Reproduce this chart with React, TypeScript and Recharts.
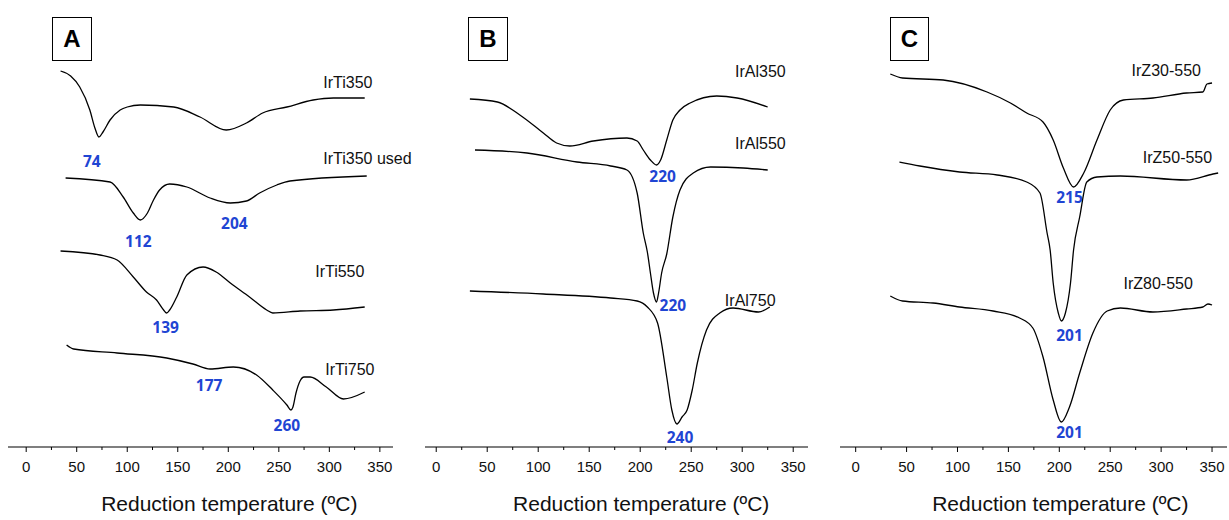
import { LineChart, Line, XAxis, YAxis, ReferenceDot } from 'recharts'

// TPR profiles, signal in arbitrary units (offset stacked), temperature in ºC
const irTi350 = [
  [34, 376], [44, 371], [53, 360], [63, 337], [68, 319], [72, 310], [76, 315], [83, 327],
  [93, 337], [100, 340], [113, 342], [146, 340], [172, 330], [198, 317], [218, 324],
  [234, 334], [258, 340], [284, 347], [304, 349], [335, 349],
]
const irTi350used = [
  [39, 269], [83, 265], [96, 250], [106, 234], [113, 227], [120, 234], [126, 247],
  [132, 257], [142, 263], [159, 260], [182, 249], [202, 244], [218, 246], [231, 254],
  [248, 262], [261, 266], [337, 271],
]
const irTi550 = [
  [34, 196], [73, 192], [90, 187], [106, 170], [119, 155], [129, 147], [136, 137],
  [139, 134], [142, 137], [149, 150], [159, 172], [175, 180], [188, 175], [202, 164],
  [221, 150], [238, 137], [244, 134], [271, 136], [304, 137], [335, 140],
]
const irTi750 = [
  [40, 102], [47, 98], [90, 94], [139, 89], [165, 83], [182, 78], [205, 80], [228, 72],
  [244, 57], [258, 42], [262, 37], [264, 40], [267, 54], [271, 66], [275, 70], [281, 70],
  [297, 60], [314, 48], [335, 55],
]

const irAl350 = [
  [33, 348], [60, 345], [82, 332], [105, 314], [118, 304], [131, 301], [154, 306],
  [187, 309], [197, 306], [203, 297], [210, 287], [216, 282], [220, 287], [226, 307],
  [232, 327], [239, 337], [249, 344], [275, 351], [295, 349], [325, 340],
]
const irAl550 = [
  [38, 297], [89, 294], [138, 285], [171, 281], [187, 277], [197, 254], [203, 214],
  [207, 195], [210, 174], [213, 154], [216, 145], [218, 154], [221, 174], [226, 193],
  [232, 230], [239, 257], [252, 274], [269, 280], [301, 279], [325, 277],
]
const irAl750 = [
  [33, 156], [105, 153], [171, 149], [197, 146], [207, 140], [217, 124], [226, 70],
  [231, 37], [236, 23], [241, 30], [246, 37], [251, 57], [256, 84], [265, 117],
  [278, 134], [291, 139], [316, 135], [327, 140],
]

const irZ30 = [
  [34, 373], [46, 369], [86, 367], [129, 355], [152, 344], [168, 334], [184, 325],
  [194, 307], [204, 279], [214, 260], [224, 274], [237, 307], [250, 337], [263, 347],
  [292, 349], [325, 354], [341, 355], [345, 363], [350, 364],
]
const irZ50 = [
  [43, 285], [63, 281], [102, 275], [139, 272], [168, 265], [181, 254], [188, 214],
  [191, 197], [194, 164], [199, 134], [202, 126], [206, 134], [211, 164], [214, 197],
  [220, 230], [227, 265], [237, 270], [260, 271], [325, 267], [351, 273], [356, 274],
]
const irZ80 = [
  [34, 151], [46, 146], [76, 144], [102, 140], [135, 136], [161, 129], [174, 119],
  [184, 90], [194, 47], [202, 25], [210, 40], [220, 74], [233, 114], [247, 136],
  [260, 139], [292, 135], [325, 138], [341, 140], [346, 143], [350, 142],
]

const ticks = [0, 25, 50, 75, 100, 125, 150, 175, 200, 225, 250, 275, 300, 325, 350]

// sample names [name, t, s] (text start) and peak temperatures [label, t, s]
const namesA = [['IrTi350', 294, 365], ['IrTi350 used', 294, 289], ['IrTi550', 286, 176], ['IrTi750', 296, 78]]
const peaksA = [['74', 65, 286], ['112', 111, 206], ['204', 206, 224], ['139', 138, 120], ['177', 181, 62], ['260', 258, 22]]
const namesB = [['IrAl350', 293, 376], ['IrAl550', 293, 304], ['IrAl750', 283, 147]]
const peaksB = [['220', 222, 271], ['220', 232, 142], ['240', 239, 10]]
const namesC = [['IrZ30-550', 271, 377], ['IrZ50-550', 282, 290], ['IrZ80-550', 263, 164]]
const peaksC = [['215', 210, 250], ['201', 210, 112], ['201', 210, 15]]

const toPts = (arr: number[][]) => arr.map(([t, s]) => ({ t, s }))

const AxisTick = (props: any) => {
  const { x, y, payload } = props
  const major = payload.value % 50 === 0
  return (
    <g>
      <line x1={x} x2={x} y1={y} y2={y + (major ? 5 : 3)} stroke="#000" strokeWidth={1} />
      {major && (
        <text x={x} y={y + 25} textAnchor="middle" fontSize={15} fontFamily="Liberation Sans, Arial" fill="#111">
          {payload.value}
        </text>
      )}
    </g>
  )
}

interface PanelProps {
  left: number
  width: number
  margin: { left: number; right: number }
  domain: [number, number]
  series: number[][][]
  names: (string | number)[][]
  peaks: (string | number)[][]
  letter: string
  box: { x: number; w: number }
}

function Panel({ left, width, margin, domain, series, names, peaks, letter, box }: PanelProps) {
  const title = (p: any) => {
    const vb = p.viewBox
    const cx = vb.x + ((201 - domain[0]) / (domain[1] - domain[0])) * vb.width
    return (
      <text x={cx} y={511} textAnchor="middle" fontSize={21} fontFamily="Liberation Sans, Arial" fill="#111">
        Reduction temperature (ºC)
      </text>
    )
  }
  return (
    <div style={{ position: 'absolute', left, top: 0, width, height: 520 }}>
      <LineChart
        width={width}
        height={520}
        margin={{ top: 0, bottom: 0, left: margin.left, right: margin.right }}
      >
        <XAxis
          type="number"
          dataKey="t"
          domain={domain}
          allowDataOverflow
          ticks={ticks}
          interval={0}
          height={73}
          tickLine={false}
          tickSize={0}
          tickMargin={0}
          tick={<AxisTick />}
          axisLine={{ stroke: '#000', strokeWidth: 1.2 }}
          label={{ content: title }}
        />
        <YAxis type="number" dataKey="s" domain={[0, 447]} hide allowDataOverflow />
        {series.map((d, i) => (
          <Line
            key={i}
            data={toPts(d)}
            dataKey="s"
            type="monotone"
            stroke="#000"
            strokeWidth={1.3}
            dot={false}
            isAnimationActive={false}
          />
        ))}
        {names.map(([n, t, s], i) => (
          <ReferenceDot
            key={'n' + i}
            x={t as number}
            y={s as number}
            r={0}
            fill="none"
            stroke="none"
            label={(p: any) => (
              <text x={p.viewBox.x} y={p.viewBox.y} dy={6} fontSize={16} fontFamily="Liberation Sans, Arial" fill="#111">
                {n}
              </text>
            )}
          />
        ))}
        {peaks.map(([n, t, s], i) => (
          <ReferenceDot
            key={'p' + i}
            x={t as number}
            y={s as number}
            r={0}
            fill="none"
            stroke="none"
            label={(p: any) => (
              <text
                x={p.viewBox.x}
                y={p.viewBox.y}
                dy={6}
                textAnchor="middle"
                fontSize={15.5}
                fontWeight={700}
                fontFamily="Open Sans, Noto Sans"
                fill="#1f45d3"
              >
                {n}
              </text>
            )}
          />
        ))}
      </LineChart>
      <div
        style={{
          position: 'absolute',
          left: box.x - left,
          top: 17,
          width: box.w,
          height: 44,
          border: '1.3px solid #000',
          boxSizing: 'border-box',
          display: 'flex',
          alignItems: 'center',
          justifyContent: 'center',
          fontFamily: 'Liberation Sans, Arial',
          fontWeight: 700,
          fontSize: 24,
          color: '#000',
        }}
      >
        {letter}
      </div>
    </div>
  )
}

export default function App() {
  return (
    <div style={{ position: 'absolute', left: 0, top: 0, width: 1229, height: 520, background: '#fff' }}>
      <Panel
        left={0}
        width={430}
        margin={{ left: 8, right: 37 }}
        domain={[-18, 363]}
        series={[irTi350, irTi350used, irTi550, irTi750]}
        names={namesA}
        peaks={peaksA}
        letter="A"
        box={{ x: 52, w: 40 }}
      />
      <Panel
        left={410}
        width={410}
        margin={{ left: 15, right: 12 }}
        domain={[-11, 364.5]}
        series={[irAl350, irAl550, irAl750]}
        names={namesB}
        peaks={peaksB}
        letter="B"
        box={{ x: 468, w: 40 }}
      />
      <Panel
        left={820}
        width={409}
        margin={{ left: 20, right: 2 }}
        domain={[-15.4, 364.7]}
        series={[irZ30, irZ50, irZ80]}
        names={namesC}
        peaks={peaksC}
        letter="C"
        box={{ x: 890, w: 39 }}
      />
    </div>
  )
}
